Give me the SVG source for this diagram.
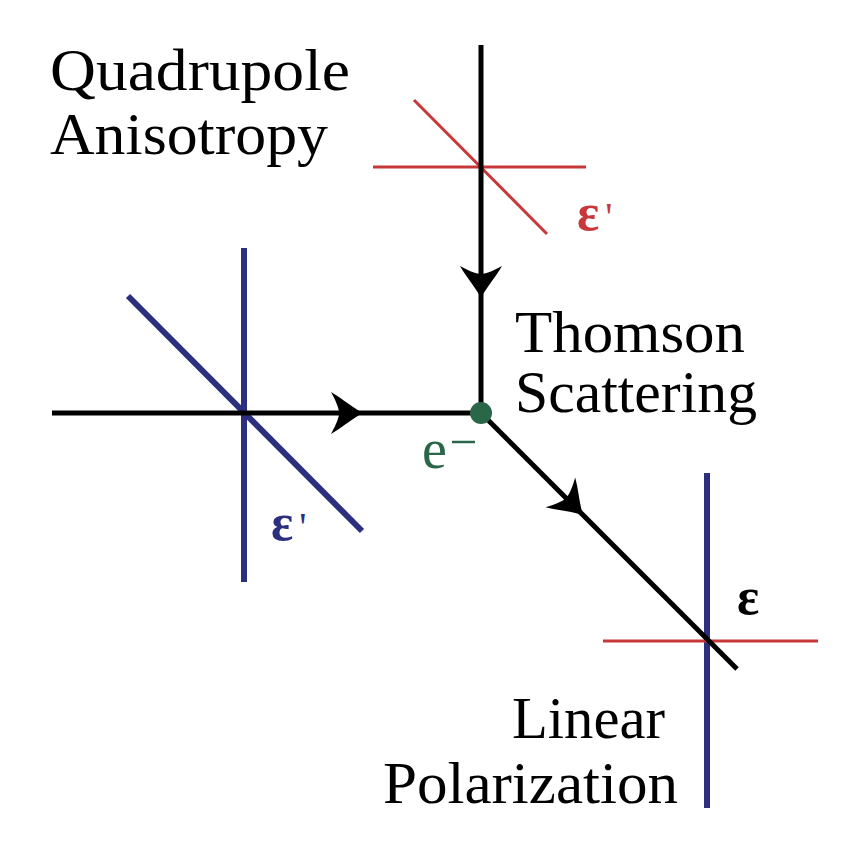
<svg xmlns="http://www.w3.org/2000/svg" width="854" height="866" viewBox="0 0 854 866">
<style>
.blk{stroke:#000;stroke-width:5;fill:none}
.red{stroke:#c8383a;stroke-width:3;fill:none}
.blue{stroke:#2b2f7e;stroke-width:6;fill:none}
.lbl{font-family:"Liberation Serif","DejaVu Serif",serif;font-size:59px;fill:#000}
.eps{font-family:"Liberation Serif","DejaVu Serif",serif;font-size:52px;font-weight:bold}
</style>
<defs>
<path id="ah" d="M0,0 C-10,-5 -20,-14 -32,-21 C-26,-10 -24,-4 -24,0 C-24,4 -26,10 -32,21 C-20,14 -10,5 0,0 Z" fill="#000"/>
</defs>
<g id="pol-top">
<line class="red" x1="373" y1="167" x2="586" y2="167"/>
<line class="red" x1="414" y1="100" x2="547" y2="234"/>
<text class="eps" x="577" y="230" fill="#c8383a">ε<tspan dx="6" font-size="40" font-weight="normal">'</tspan></text>
</g>
<g id="pol-left">
<line class="blue" x1="244" y1="248" x2="244" y2="582"/>
<line class="blue" x1="128" y1="296" x2="362" y2="531"/>
<text class="eps" x="271" y="540" fill="#2b2f7e">ε<tspan dx="6" font-size="40" font-weight="normal">'</tspan></text>
</g>
<g id="pol-out">
<line class="blue" x1="707" y1="473" x2="707" y2="808"/>
<line class="red" x1="603" y1="641" x2="818" y2="641"/>
<text class="eps" x="737" y="614" fill="#000">ε</text>
</g>
<g id="connectors">
<line class="blk" x1="481" y1="45" x2="481" y2="413"/>
<line class="blk" x1="52" y1="413" x2="481" y2="413"/>
<line class="blk" x1="481" y1="413" x2="737" y2="669"/>
<use href="#ah" transform="translate(481,298) rotate(90)"/>
<use href="#ah" transform="translate(363,413)"/>
<use href="#ah" transform="translate(583,515) rotate(45)"/>
</g>
<g id="electron">
<circle cx="481" cy="413" r="11" fill="#2a6648"/>
<text x="422" y="468" font-family="Liberation Serif,DejaVu Serif,serif" font-size="56" fill="#2a6648">e</text>
<line x1="452" y1="442" x2="475" y2="442" stroke="#2a6648" stroke-width="2.5"/>
</g>
<g id="labels">
<text class="lbl" x="50" y="90" textLength="300" lengthAdjust="spacingAndGlyphs">Quadrupole</text>
<text class="lbl" x="50" y="154" textLength="278" lengthAdjust="spacingAndGlyphs">Anisotropy</text>
<text class="lbl" x="515" y="352" textLength="230" lengthAdjust="spacingAndGlyphs">Thomson</text>
<text class="lbl" x="515" y="412" textLength="242" lengthAdjust="spacingAndGlyphs">Scattering</text>
<text class="lbl" x="512" y="738" textLength="153" lengthAdjust="spacingAndGlyphs">Linear</text>
<text class="lbl" x="383" y="803" textLength="295" lengthAdjust="spacingAndGlyphs">Polarization</text>
</g>
</svg>
